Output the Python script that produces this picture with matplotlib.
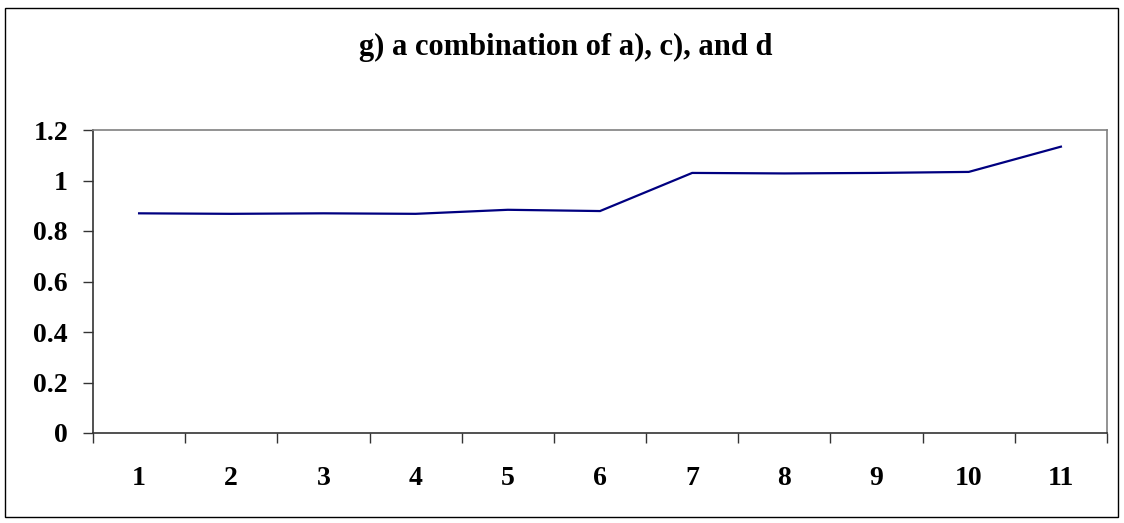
import matplotlib
matplotlib.use("Agg")
import matplotlib.pyplot as plt
from matplotlib.patches import Rectangle

plt.rcParams['font.family'] = ['Liberation Serif', 'DejaVu Serif']
plt.rcParams['font.weight'] = 'bold'

# data
categories = ['1', '2', '3', '4', '5', '6', '7', '8', '9', '10', '11']
values = [0.870, 0.868, 0.870, 0.868, 0.884, 0.879, 1.030, 1.028, 1.030, 1.034, 1.134]
yticks = [0, 0.2, 0.4, 0.6, 0.8, 1.0, 1.2]
ylabels = ['0', '0.2', '0.4', '0.6', '0.8', '1', '1.2']
title = 'g) a combination of a), c), and d'

W, H = 1124, 523
fig = plt.figure(figsize=(W / 100, H / 100), dpi=100)
ax = fig.add_axes([93 / W, 1 - 433 / H, (1107 - 93) / W, (433 - 130) / H])

x = list(range(1, len(categories) + 1))
ax.plot(x, values, color='#000080', lw=1.6, solid_joinstyle='miter')

ax.set_xlim(0.5, len(categories) + 0.5)
ax.set_ylim(0, 1.2)
ax.set_yticks(yticks)
ax.set_yticklabels(ylabels)

# ticks between categories, labels in the middle
ax.set_xticks([i + 0.5 for i in range(0, len(categories) + 1)])
ax.set_xticklabels([])
ax.set_xticks(x, minor=True)
ax.set_xticklabels(categories, minor=True)
ax.tick_params(axis='x', which='major', direction='out', length=7, width=1, color='#333333')
ax.tick_params(axis='x', which='minor', length=0, pad=24, labelsize=20)
ax.tick_params(axis='y', direction='out', length=7, width=1, color='#333333', pad=11, labelsize=20)
for lab in ax.get_yticklabels() + ax.get_xticklabels(minor=True):
    lab.set_fontweight('bold')

ax.spines['left'].set_color('#333333')
ax.spines['bottom'].set_color('#333333')
ax.spines['top'].set_color('#808080')
ax.spines['right'].set_color('#808080')
for s in ax.spines.values():
    s.set_linewidth(1.2)

fig.text(566 / W, 1 - 55 / H, title, ha='center', va='baseline', fontsize=22, fontweight='bold')

# outer chart border
fig.patches.append(Rectangle((5 / W, 6 / H), (1118 - 5) / W, (515 - 6) / H,
                             transform=fig.transFigure, fill=False, edgecolor='black', lw=1))

fig.savefig('out.png', dpi=100)
